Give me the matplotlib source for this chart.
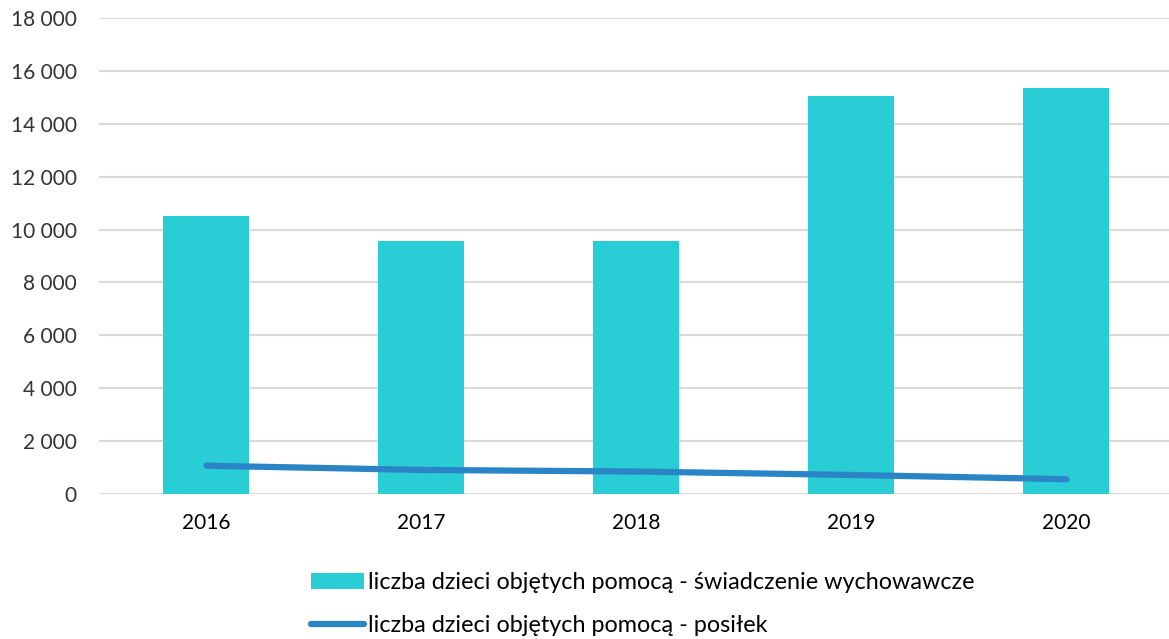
import numpy as np
import matplotlib
matplotlib.use("Agg")
import matplotlib.pyplot as plt
from matplotlib.patches import Patch
from matplotlib.lines import Line2D
from matplotlib.ticker import FuncFormatter

years = ["2016", "2017", "2018", "2019", "2020"]
swiadczenie = [10500, 9550, 9560, 15060, 15370]
posilek = [1070, 910, 850, 720, 560]

label_bar = "liczba dzieci objętych pomocą - świadczenie wychowawcze"
label_line = "liczba dzieci objętych pomocą - posiłek"

bar_color = "#29CDD6"
line_color = "#2A84C6"

plt.rcParams['font.family'] = ['Lato', 'DejaVu Sans']

fig = plt.figure(figsize=(11.69, 6.39), dpi=100)
ax = fig.add_axes([99/1169, (639-494)/639, 1070/1169, 476/639])

x = np.arange(len(years))
ax.bar(x, swiadczenie, width=0.4, color=bar_color, zorder=2)
ax.plot(x, posilek, color=line_color, lw=4.5, solid_capstyle='round', zorder=3)

ax.set_xlim(-0.5, 4.477)
ax.set_ylim(0, 18000)
ax.set_yticks(np.arange(0, 18001, 2000))
ax.yaxis.set_major_formatter(FuncFormatter(lambda v, p: f"{int(v):,}".replace(",", " ")))
ax.set_xticks(x)
ax.set_xticklabels(years)
ax.grid(axis='y', color='#D9D9D9', lw=1.5, zorder=0)
for s in ax.spines.values():
    s.set_visible(False)
ax.tick_params(axis='both', length=0, labelsize=15, colors='#000000')
ax.tick_params(axis='y', pad=16, labelcolor='#333333')
ax.tick_params(axis='x', pad=14)

handles = [Patch(facecolor=bar_color, edgecolor='none'),
           Line2D([0], [0], color=line_color, lw=4.5, solid_capstyle='round')]
fig.legend(handles, [label_bar, label_line], loc='upper left',
           bbox_to_anchor=(302/1169, 1 - 563/639), frameon=False,
           fontsize=16.8, handlelength=2.25, handletextpad=0.2,
           labelspacing=0.95, borderaxespad=0)

fig.savefig("out.png", dpi=100)
